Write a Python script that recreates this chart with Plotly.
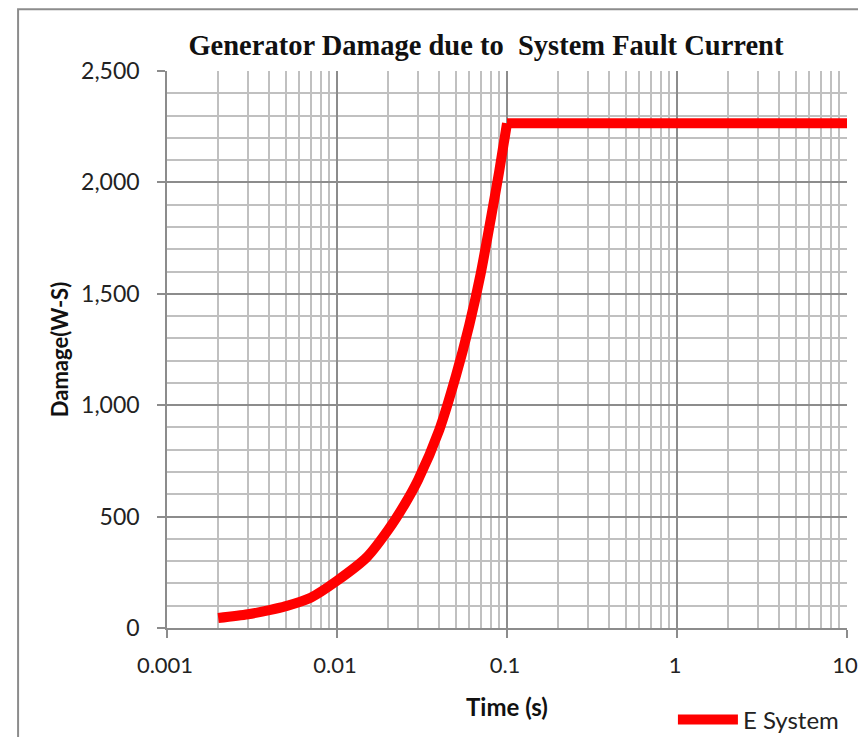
import plotly.graph_objects as go

# Data
rise_time = [0.002, 0.003, 0.004, 0.005, 0.007, 0.01, 0.015, 0.02, 0.025, 0.03,
             0.04, 0.05, 0.06, 0.07, 0.08, 0.09, 0.1]
rise_damage = [45, 62, 80, 98, 136, 212, 318, 440, 555, 665,
               890, 1130, 1360, 1590, 1830, 2050, 2265]
plateau_time = [0.1, 10]
plateau_damage = [2265, 2265]

x_tickvals = [0.001, 0.01, 0.1, 1, 10]
x_ticktext = ["0.001", "0.01", "0.1", "1", "10"]

series_name = "E System"
title_text = "Generator Damage due to  System Fault Current"

SANS = "Lato, Carlito, Calibri, sans-serif"
TICK_FONT = dict(family=SANS, size=23, color="#222222")
MAJOR = "#8c8c8c"
MINOR = "#c0c0c0"
RED = "#ff0000"

fig = go.Figure()
fig.add_trace(go.Scatter(
    x=rise_time, y=rise_damage, mode="lines", name=series_name, legendgroup="e",
    line=dict(color=RED, width=10, shape="spline", smoothing=0.8),
))
fig.add_trace(go.Scatter(
    x=plateau_time, y=plateau_damage, mode="lines", name=series_name, legendgroup="e",
    showlegend=False, line=dict(color=RED, width=10),
))

fig.update_layout(
    width=856, height=729,
    margin=dict(l=159, r=17, t=63, b=109, autoexpand=False),
    paper_bgcolor="white", plot_bgcolor="white",
    title=dict(text="<b>" + title_text + "</b>", xref="paper", x=0.469, xanchor="center",
               y=0.949, yanchor="middle",
               font=dict(family="Liberation Serif, Times New Roman, serif", size=28.5, color="#111111")),
    showlegend=True,
    legend=dict(orientation="h", x=0.744, xanchor="left", y=-0.165, yanchor="middle",
                font=dict(family=SANS, size=24, color="#222222"),
                itemwidth=60, bgcolor="rgba(0,0,0,0)"),
    shapes=[dict(type="rect", xref="paper", yref="paper",
                 x0=-0.219, x1=1.08, y0=-0.3, y1=1.111,
                 line=dict(color="#8c8c8c", width=2), layer="below")],
)

fig.update_xaxes(
    type="log", range=[-3, 1], automargin=False, ticklabeloverflow="allow",
    tickvals=x_tickvals, ticktext=x_ticktext, ticklabelshift=-2,
    showgrid=True, gridcolor=MAJOR, gridwidth=1.5,
    minor=dict(dtick="D1", showgrid=True, gridcolor=MINOR, gridwidth=1.5, ticks=""),
    ticks="outside", ticklen=8, tickcolor=MAJOR, tickwidth=1.5,
    showline=True, linecolor=MAJOR, linewidth=1.5, mirror=False,
    tickfont=dict(family=SANS, size=22, color="#222222"), zeroline=False, ticklabelstandoff=9,
    title=dict(text="<b>Time (s)</b>", standoff=22,
               font=dict(family=SANS, size=24, color="#111111")),
)
fig.update_yaxes(
    range=[0, 2500], dtick=500, tickformat=",", automargin=False,
    showgrid=True, gridcolor=MAJOR, gridwidth=1.5,
    minor=dict(dtick=100, showgrid=True, gridcolor=MINOR, gridwidth=1.5, ticks=""),
    ticks="outside", ticklen=8, tickcolor=MAJOR, tickwidth=1.5,
    showline=True, linecolor=MAJOR, linewidth=1.5,
    tickfont=TICK_FONT, zeroline=False, ticklabelstandoff=13,
    title=dict(text="<b>Damage(W-S)</b>", standoff=6,
               font=dict(family=SANS, size=22, color="#111111")),
)

fig.write_html("out.html")
